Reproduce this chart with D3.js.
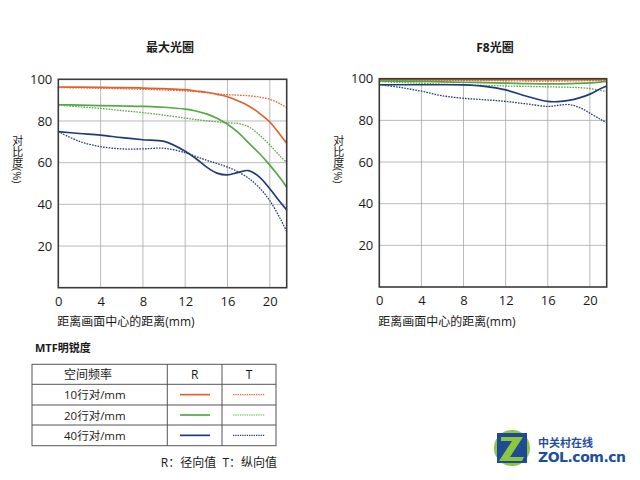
<!DOCTYPE html>
<html><head><meta charset="utf-8">
<script src="https://cdn.jsdelivr.net/npm/d3@7"></script>
<style>
body{margin:0;background:#fff;}
svg text{font-family:"Open Sans","Noto Sans CJK SC",sans-serif;}
.vt{writing-mode:vertical-rl;font-family:"Open Sans","Noto Sans CJK SC",sans-serif;font-size:11px;line-height:12px;color:#1a1a1a;white-space:nowrap;margin:0;}
</style></head>
<body><svg id="c" width="640" height="480"></svg>
<script>
// ---- data ----
const chartTitles = ["最大光圈", "F8光圈"];
const xTicks = [0, 4, 8, 12, 16, 20];
const yTicks = [20, 40, 60, 80, 100];
const xTitle = "距离画面中心的距离(mm)";
const yTitle = "对比度(%)";
const seriesNames = ["10行对/mm R","10行对/mm T","20行对/mm R","20行对/mm T","40行对/mm R","40行对/mm T"];

// Maximum aperture
const wideX = [0, 2, 4, 6, 8, 10, 12, 13, 14, 15, 16, 17, 18, 19, 20, 21, 21.6];
const wide10R = [96.3, 96.2, 96.1, 96.0, 95.8, 95.5, 95.0, 94.4, 93.8, 92.8, 91.6, 89.6, 87.2, 83.8, 79.5, 73.3, 69.3];
const wide10T = [96.0, 95.9, 95.7, 95.5, 95.2, 94.9, 94.5, 94.1, 93.6, 93.0, 92.6, 92.4, 92.1, 91.5, 90.4, 88.2, 86.4];
const wide20R = [87.8, 87.6, 87.4, 87.2, 87.0, 86.6, 85.7, 84.8, 83.4, 81.3, 78.4, 74.5, 69.5, 64.5, 58.8, 52.5, 48.2];
const wide20T = [87.6, 86.8, 86.0, 85.0, 84.0, 82.8, 81.4, 80.7, 80.1, 79.6, 79.1, 78.8, 77.2, 73.4, 68.5, 63.0, 60.2];
const wide40R = [74.9, 74.0, 73.2, 72.0, 71.0, 70.2, 65.5, 62.0, 58.0, 55.0, 54.1, 55.3, 56.2, 53.2, 47.5, 41.0, 37.3];
const wide40T = [74.9, 70.2, 67.7, 66.6, 66.6, 66.9, 64.8, 63.0, 61.2, 59.6, 57.9, 55.6, 52.5, 48.0, 41.8, 33.0, 26.9];

// F8
const f8X = [0, 2, 4, 6, 8, 10, 12, 14, 16, 17, 18, 19, 20, 21, 21.6];
const f810R = [99.6, 99.6, 99.6, 99.6, 99.6, 99.6, 99.6, 99.6, 99.5, 99.5, 99.5, 99.5, 99.5, 99.6, 99.6];
const f810T = [99.2, 99.2, 99.2, 99.2, 99.2, 99.1, 99.0, 98.9, 98.9, 98.9, 98.9, 99.0, 99.1, 99.2, 99.2];
const f820R = [98.9, 98.8, 98.7, 98.5, 98.3, 98.1, 97.9, 97.6, 97.5, 97.5, 97.6, 97.8, 98.0, 98.4, 98.7];
const f820T = [98.6, 98.2, 97.8, 97.4, 97.1, 96.8, 96.5, 96.3, 96.1, 96.0, 95.9, 95.7, 95.3, 94.4, 93.8];
const f840R = [97.1, 97.1, 97.1, 97.1, 97.0, 96.3, 94.6, 91.6, 89.1, 89.0, 89.6, 90.8, 92.6, 95.2, 96.5];
const f840T = [97.1, 95.8, 94.0, 91.8, 90.6, 89.9, 89.1, 87.9, 86.7, 87.2, 87.6, 86.2, 83.5, 80.5, 78.9];

const legendTitle = "MTF明锐度";
const legendHeader = ["空间频率", "R", "T"];
const legendRows = ["10行对/mm", "20行对/mm", "40行对/mm"];
const footnote = "R：径向值  T：纵向值";
const logoTexts = ["中关村在线", "ZOL.com.cn"];

// ---- drawing ----
const colors = ["#e0612f", "#55a845", "#1f3b78"];
const svg = d3.select("#c");

const panels = [
  {title: chartTitles[0], x0: 58.3, x1: 286.7, y0: 79.3, y1: 287.7, xs: wideX,
   series: [wide10R, wide10T, wide20R, wide20T, wide40R, wide40T], tx: 170},
  {title: chartTitles[1], x0: 379.3, x1: 606.7, y0: 78.7, y1: 287, xs: f8X,
   series: [f810R, f810T, f820R, f820T, f840R, f840T], tx: 495}
];

panels.forEach(p => {
  const g = svg.append("g");
  const x = d3.scaleLinear().domain([0, 21.6]).range([p.x0, p.x1]);
  const y = d3.scaleLinear().domain([0, 100]).range([p.y1, p.y0]);

  g.append("text").attr("x", p.tx).attr("y", 52).attr("text-anchor", "middle")
    .attr("font-size", 12).attr("font-weight", "bold").attr("fill", "#1a1a1a").text(p.title);

  // grid
  g.selectAll(".vg").data(xTicks.filter(d => d > 0)).join("line")
    .attr("x1", d => x(d)).attr("x2", d => x(d)).attr("y1", p.y0).attr("y2", p.y1)
    .attr("stroke", "#a8a8a8").attr("stroke-width", 0.8);
  g.selectAll(".hg").data(yTicks.filter(d => d < 100)).join("line")
    .attr("x1", p.x0).attr("x2", p.x1).attr("y1", d => y(d)).attr("y2", d => y(d))
    .attr("stroke", "#a8a8a8").attr("stroke-width", 0.8);

  // axes labels via d3 axes
  const ax = g.append("g").attr("transform", `translate(0,${p.y1})`)
    .call(d3.axisBottom(x).tickValues(xTicks).tickSize(0).tickPadding(9));
  ax.select(".domain").remove();
  ax.selectAll("text").attr("font-size", 13).attr("fill", "#1a1a1a")
    .attr("font-family", "'Open Sans',sans-serif");
  const ay = g.append("g").attr("transform", `translate(${p.x0 - 6},0)`)
    .call(d3.axisLeft(y).tickValues(yTicks).tickSize(0).tickPadding(0));
  ay.select(".domain").remove();
  ay.selectAll("text").attr("font-size", 13).attr("fill", "#1a1a1a")
    .attr("font-family", "'Open Sans',sans-serif");

  // lines
  p.series.forEach((vals, i) => {
    const line = d3.line().x((d, j) => x(p.xs[j])).y(d => y(d)).curve(d3.curveCatmullRom.alpha(0.5));
    g.append("path").attr("d", line(vals)).attr("fill", "none")
      .attr("stroke", colors[Math.floor(i / 2)])
      .attr("stroke-width", i % 2 === 0 ? 1.7 : 1.3)
      .attr("stroke-dasharray", i % 2 === 0 ? null : "1.6,1.2");
  });

  // frame
  g.append("rect").attr("x", p.x0).attr("y", p.y0).attr("width", p.x1 - p.x0).attr("height", p.y1 - p.y0)
    .attr("fill", "none").attr("stroke", "#3a3a3a").attr("stroke-width", 1.6);

  // x title
  g.append("text").attr("x", p.x0 - 1).attr("y", 326).attr("font-size", 12).attr("fill", "#1a1a1a")
    .text(xTitle);

  // y title: vertical writing (CJK upright, unit rotated)
  g.append("foreignObject").attr("x", p.x0 - 47.5).attr("y", 135).attr("width", 13).attr("height", 60)
    .append("xhtml:div").attr("class", "vt").text(yTitle);
});

// legend
svg.append("text").attr("x", 35).attr("y", 352).attr("font-size", 11).attr("font-weight", "bold")
  .attr("fill", "#1a1a1a").text(legendTitle);
const tL = 32, tR = 276, c1 = 167.3, c2 = 222;
const rowsY = [364.3, 384.3, 405, 425, 445.7];
const lg = svg.append("g");
lg.append("rect").attr("x", tL).attr("y", rowsY[0]).attr("width", tR - tL).attr("height", rowsY[4] - rowsY[0])
  .attr("fill", "none").attr("stroke", "#555").attr("stroke-width", 1);
rowsY.slice(1, 4).forEach(yy => lg.append("line").attr("x1", tL).attr("x2", tR).attr("y1", yy).attr("y2", yy)
  .attr("stroke", "#555").attr("stroke-width", 1));
[c1, c2].forEach(xx => lg.append("line").attr("x1", xx).attr("x2", xx).attr("y1", rowsY[0]).attr("y2", rowsY[4])
  .attr("stroke", "#555").attr("stroke-width", 1));
const rowMid = (k) => (rowsY[k] + rowsY[k + 1]) / 2;
lg.append("text").attr("x", 64).attr("y", rowMid(0) + 4.5).attr("font-size", 12).attr("fill", "#1a1a1a").text(legendHeader[0]);
lg.append("text").attr("x", (c1 + c2) / 2).attr("y", rowMid(0) + 4.5).attr("text-anchor", "middle").attr("font-size", 12).attr("fill", "#1a1a1a").text(legendHeader[1]);
lg.append("text").attr("x", (c2 + tR) / 2).attr("y", rowMid(0) + 4.5).attr("text-anchor", "middle").attr("font-size", 12).attr("fill", "#1a1a1a").text(legendHeader[2]);
legendRows.forEach((r, k) => {
  const ym = rowMid(k + 1);
  lg.append("text").attr("x", 64).attr("y", ym + 4.5).attr("font-size", 11.5).attr("fill", "#1a1a1a").text(r);
  lg.append("line").attr("x1", 180).attr("x2", 210).attr("y1", ym).attr("y2", ym)
    .attr("stroke", colors[k]).attr("stroke-width", 1.7);
  lg.append("line").attr("x1", 233).attr("x2", 265).attr("y1", ym).attr("y2", ym)
    .attr("stroke", colors[k]).attr("stroke-width", 1.2).attr("stroke-dasharray", "1.3,1");
});
svg.append("text").attr("x", 277).attr("y", 467).attr("text-anchor", "end").attr("font-size", 12)
  .attr("fill", "#1a1a1a").attr("xml:space", "preserve").text(footnote);

// logo
const logo = svg.append("g");
logo.append("circle").attr("cx", 512).attr("cy", 448).attr("r", 18).attr("fill", "#8cc63f");
logo.append("rect").attr("x", 497).attr("y", 433).attr("width", 30).attr("height", 30).attr("fill", "#1e4a96");
logo.append("path").attr("d", "M501,437 L523,437 L510,457 L524,457 L522,461 L499,461 L512,441 L501,441 Z")
  .attr("fill", "#8cc63f");
const lt = logo.append("text").attr("font-weight", "bold").attr("fill", "#1e4f9c");
lt.append("tspan").attr("x", 538).attr("y", 447).attr("font-size", 11).text(logoTexts[0]);
lt.append("tspan").attr("x", 538).attr("y", 462).attr("font-size", 14)
  .attr("font-family", "Verdana,'DejaVu Sans',sans-serif").attr("textLength", 88).text(logoTexts[1]);
</script></body></html>
